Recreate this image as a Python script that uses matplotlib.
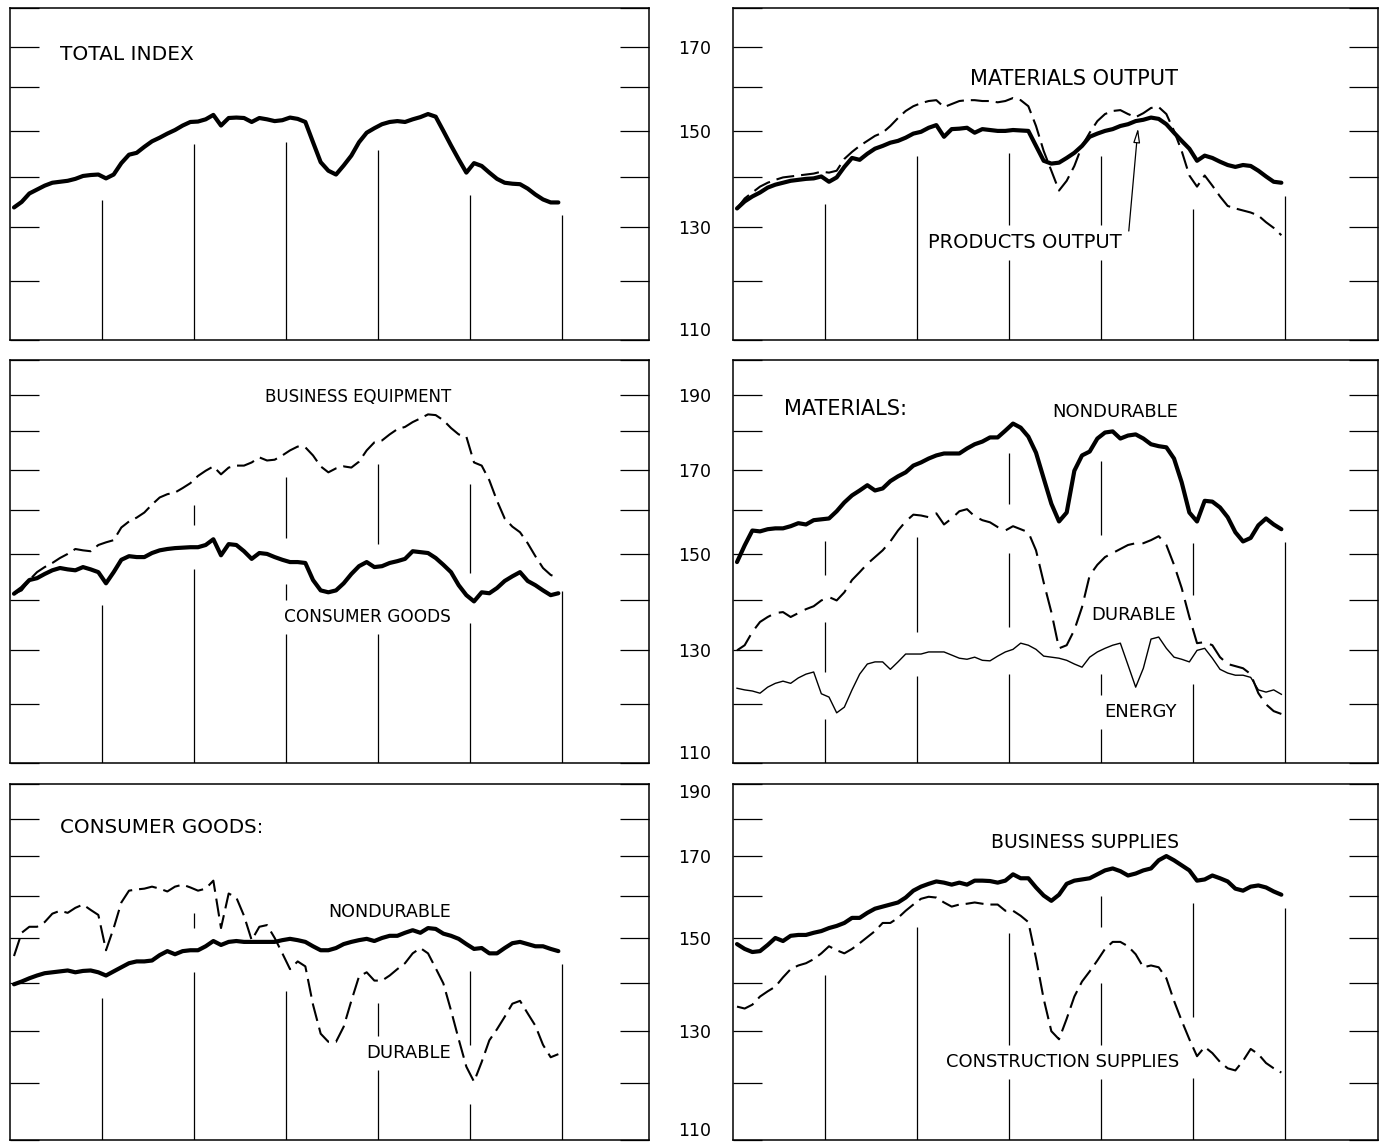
import numpy as np
import matplotlib
matplotlib.use("Agg")
import matplotlib.pyplot as plt
from matplotlib.ticker import FixedLocator, NullLocator, FixedFormatter

# monthly index values, 6 years (72 months)
months = np.arange(72)
year_breaks = np.arange(11.5, 72, 12)

total_index = [133.9, 135.0, 136.7, 137.5, 138.3, 138.9, 139.1, 139.3, 139.7, 140.3, 140.5, 140.6,
               139.8, 140.6, 143.0, 144.8, 145.2, 146.5, 147.7, 148.5, 149.4, 150.2, 151.2, 152.0,
               152.1, 152.6, 153.6, 151.2, 152.9, 153.0, 152.9, 152.0, 152.9, 152.6, 152.2, 152.4,
               153.0, 152.7, 152.0, 147.5, 143.2, 141.4, 140.6, 142.5, 144.6, 147.5, 149.6, 150.6,
               151.5, 152.0, 152.2, 152.0, 152.6, 153.1, 153.8, 153.2, 150.0, 146.8, 143.8, 141.0,
               143.0, 142.4, 141.0, 139.7, 138.9, 138.7, 138.6, 137.7, 136.5, 135.5, 134.9, 134.9]

products_output = [133.7, 135.1, 136.1, 136.9, 137.9, 138.5, 138.9, 139.3, 139.5, 139.7, 139.8, 140.2,
                   139.1, 140.0, 142.2, 144.1, 143.7, 145.0, 146.1, 146.7, 147.4, 147.8, 148.5, 149.4,
                   149.8, 150.7, 151.3, 148.7, 150.4, 150.5, 150.7, 149.6, 150.4, 150.2, 150.0, 150.0,
                   150.2, 150.1, 150.0, 146.7, 143.5, 142.9, 143.1, 144.1, 145.2, 146.7, 148.7, 149.4,
                   150.0, 150.4, 151.1, 151.5, 152.2, 152.5, 153.0, 152.7, 151.5, 149.6, 147.8, 146.1,
                   143.5, 144.6, 144.1, 143.3, 142.6, 142.2, 142.6, 142.4, 141.4, 140.2, 139.1, 138.9]

materials_output = [133.7, 135.7, 136.9, 138.1, 138.9, 139.5, 140.0, 140.2, 140.4, 140.6, 140.8, 141.2,
                    141.0, 141.4, 143.9, 145.4, 146.7, 147.8, 148.9, 149.6, 151.1, 152.9, 154.5, 155.6,
                    156.3, 156.8, 157.0, 155.4, 156.1, 156.8, 157.0, 157.0, 156.8, 156.8, 156.5, 156.8,
                    157.5, 157.0, 155.6, 151.1, 145.6, 141.4, 137.3, 139.3, 142.4, 146.7, 149.6, 152.2,
                    153.8, 154.5, 154.7, 153.8, 153.1, 154.0, 155.2, 155.4, 153.8, 150.0, 145.6, 140.4,
                    138.1, 140.4, 138.3, 136.1, 134.2, 133.7, 133.3, 132.9, 132.3, 131.0, 129.9, 128.5]

consumer_goods = [141.4, 142.6, 144.3, 144.7, 145.6, 146.4, 146.9, 146.6, 146.4, 147.1, 146.6, 146.0,
                  143.6, 146.0, 148.7, 149.5, 149.3, 149.3, 150.2, 150.8, 151.1, 151.3, 151.4, 151.5,
                  151.5, 152.0, 153.3, 149.7, 152.2, 152.0, 150.6, 148.9, 150.2, 150.0, 149.3, 148.7,
                  148.2, 148.2, 148.0, 144.3, 142.1, 141.7, 142.1, 143.6, 145.6, 147.3, 148.2, 147.1,
                  147.3, 148.0, 148.4, 148.9, 150.6, 150.4, 150.2, 149.1, 147.6, 146.0, 143.2, 141.1,
                  139.8, 141.7, 141.5, 142.6, 144.1, 145.1, 146.0, 144.1, 143.2, 142.1, 141.1, 141.5]

business_equipment = [141.4, 142.1, 144.3, 146.0, 147.1, 148.0, 149.1, 150.0, 151.1, 150.8, 150.6, 152.0,
                      152.6, 153.1, 156.0, 157.4, 158.3, 159.5, 161.4, 163.1, 163.9, 164.3, 165.4, 166.6,
                      168.4, 169.7, 170.8, 168.8, 170.5, 171.0, 171.0, 171.8, 173.1, 172.3, 172.5, 173.6,
                      174.9, 175.9, 175.7, 173.6, 170.8, 169.3, 170.3, 170.8, 170.5, 172.0, 174.9, 177.0,
                      177.5, 179.1, 180.5, 181.1, 182.4, 183.4, 184.5, 184.3, 182.9, 180.8, 179.1, 178.5,
                      171.8, 171.0, 167.3, 162.3, 158.1, 156.2, 154.9, 152.4, 149.5, 146.9, 145.4, 144.7]

mat_nondurable = [148.2, 151.9, 155.3, 155.1, 155.6, 155.8, 155.8, 156.3, 157.0, 156.7, 157.7, 157.9,
                  158.1, 159.8, 161.9, 163.6, 164.8, 166.1, 164.8, 165.3, 167.1, 168.3, 169.3, 171.0,
                  171.8, 172.8, 173.6, 174.1, 174.1, 174.1, 175.4, 176.5, 177.2, 178.3, 178.3, 180.1,
                  182.0, 180.9, 178.5, 174.3, 167.8, 161.6, 157.4, 159.5, 169.7, 173.6, 174.6, 178.0,
                  179.6, 179.9, 178.0, 178.8, 179.1, 178.0, 176.5, 176.0, 175.7, 172.8, 166.8, 159.5,
                  157.4, 162.3, 162.1, 160.7, 158.4, 154.9, 152.8, 153.6, 156.5, 158.1, 156.7, 155.6]

mat_durable = [130.0, 131.0, 133.6, 135.6, 136.6, 137.4, 137.6, 136.6, 137.4, 138.2, 138.8, 140.0,
               140.7, 140.0, 141.7, 144.3, 146.0, 147.8, 149.3, 150.8, 152.8, 155.3, 157.4, 159.0,
               158.8, 158.4, 159.3, 156.7, 158.1, 159.8, 160.3, 158.6, 157.7, 157.2, 156.1, 155.3,
               156.3, 155.6, 154.9, 150.8, 143.8, 137.6, 130.4, 131.0, 134.0, 138.6, 145.3, 147.6,
               149.3, 150.2, 151.1, 152.0, 152.4, 152.4, 153.1, 154.0, 152.0, 147.6, 142.6, 136.6,
               131.4, 131.6, 131.0, 128.7, 127.4, 127.0, 126.6, 125.5, 122.0, 120.0, 118.8, 118.3]

mat_energy = [122.9, 122.6, 122.4, 122.0, 123.1, 123.8, 124.2, 123.8, 124.8, 125.5, 125.9, 121.9,
              121.3, 118.5, 119.5, 122.6, 125.5, 127.4, 127.8, 127.8, 126.4, 127.8, 129.3, 129.3,
              129.3, 129.7, 129.7, 129.7, 129.1, 128.5, 128.3, 128.7, 128.1, 128.0, 128.9, 129.7,
              130.2, 131.4, 131.0, 130.2, 128.9, 128.7, 128.5, 128.1, 127.4, 126.8, 128.7, 129.7,
              130.4, 131.0, 131.4, 127.2, 123.1, 126.6, 132.2, 132.6, 130.4, 128.7, 128.3, 127.8,
              130.0, 130.4, 128.5, 126.4, 125.7, 125.3, 125.3, 124.9, 122.6, 122.2, 122.6, 121.8]

cons_nondurable = [139.7, 140.3, 141.0, 141.6, 142.1, 142.3, 142.5, 142.7, 142.3, 142.6, 142.7, 142.3,
                   141.6, 142.5, 143.4, 144.3, 144.7, 144.7, 144.9, 146.1, 147.0, 146.3, 147.0, 147.2,
                   147.2, 148.1, 149.3, 148.4, 149.1, 149.3, 149.1, 149.1, 149.1, 149.1, 149.1, 149.5,
                   149.8, 149.5, 149.1, 148.1, 147.2, 147.2, 147.7, 148.6, 149.1, 149.5, 149.8, 149.3,
                   150.0, 150.5, 150.5, 151.2, 151.8, 151.2, 152.3, 152.1, 151.0, 150.5, 149.8, 148.6,
                   147.5, 147.7, 146.5, 146.5, 147.7, 148.8, 149.1, 148.6, 148.1, 148.1, 147.5, 147.0]

cons_durable = [145.9, 151.2, 152.6, 152.6, 153.7, 155.7, 156.4, 155.9, 157.1, 157.9, 156.6, 155.4,
                147.2, 152.3, 158.4, 161.3, 161.6, 161.8, 162.3, 161.8, 161.1, 162.3, 162.8, 162.1,
                161.3, 161.8, 163.8, 152.3, 160.6, 159.6, 155.2, 149.5, 152.6, 153.0, 150.0, 146.5,
                143.0, 144.7, 143.6, 135.4, 129.5, 127.9, 127.9, 130.9, 136.2, 141.4, 142.3, 140.5,
                140.5, 141.6, 143.0, 144.3, 146.5, 147.7, 146.5, 143.2, 139.9, 134.2, 128.4, 123.1,
                120.3, 124.0, 128.2, 130.4, 132.9, 135.6, 136.2, 133.6, 131.1, 127.3, 124.9, 125.5]

business_supplies = [148.6, 147.5, 146.8, 147.0, 148.4, 150.0, 149.3, 150.5, 150.7, 150.7, 151.2, 151.6,
                     152.3, 152.8, 153.5, 154.7, 154.7, 155.9, 156.9, 157.4, 157.9, 158.4, 159.6, 161.3,
                     162.3, 163.0, 163.6, 163.3, 162.8, 163.3, 162.8, 163.8, 163.8, 163.7, 163.3, 163.8,
                     165.4, 164.4, 164.4, 162.1, 160.1, 158.8, 160.3, 163.0, 163.8, 164.1, 164.4, 165.4,
                     166.4, 166.9, 166.2, 165.1, 165.6, 166.4, 166.9, 169.0, 170.1, 169.0, 167.7, 166.4,
                     163.8, 164.1, 165.1, 164.4, 163.6, 161.8, 161.3, 162.3, 162.6, 162.1, 161.1, 160.3]

construction_supplies = [135.0, 134.6, 135.4, 137.1, 138.2, 139.2, 141.2, 143.0, 143.8, 144.3, 145.2, 146.5,
                         148.1, 147.2, 146.5, 147.5, 148.8, 150.2, 151.6, 153.5, 153.5, 154.7, 156.4, 157.9,
                         159.3, 159.8, 159.6, 158.4, 157.4, 157.9, 158.1, 158.4, 158.1, 157.9, 157.9, 156.4,
                         156.4, 155.2, 153.7, 145.4, 136.6, 130.0, 128.4, 132.5, 137.1, 140.3, 142.5, 144.9,
                         147.5, 149.1, 149.1, 148.1, 146.3, 143.4, 143.8, 143.4, 141.0, 136.2, 132.1, 128.4,
                         125.1, 126.9, 125.7, 124.0, 122.8, 122.4, 124.2, 126.5, 125.5, 123.8, 122.8, 122.0]

W, H = 1384, 1142
PX_PER_MONTH = 7.667
GAP = 22        # px clearance of year lines around curves
END_GAP = 13    # clearance under the curve end for the last year line
TXT_PAD = 8     # px clearance around labels
MIN_SEG = 14

plt.rcParams['font.family'] = ['DejaVu Sans']
plt.rcParams['lines.scale_dashes'] = False

fig = plt.figure(figsize=(W / 100, H / 100), dpi=100)

LEFT_COL = (10, 649)
RIGHT_COL = (733, 1378)
ROWS = [((8, 340), 180), ((360, 763), 200), ((784, 1140), 190)]


def make_panel(col, row, labelled):
    (l, r), ((t, b), ymax) = col, row
    ax = fig.add_axes([l / W, 1 - b / H, (r - l) / W, (b - t) / H])
    ax.set_yscale('log')
    first = 4  # first data point sits just inside the frame
    ax.set_xlim(-first / PX_PER_MONTH, (r - l - first) / PX_PER_MONTH)
    ax.set_ylim(110, ymax)
    ticks = list(range(110, ymax + 1, 10))
    ax.yaxis.set_major_locator(FixedLocator(ticks))
    ax.yaxis.set_minor_locator(NullLocator())
    ax.yaxis.set_major_formatter(FixedFormatter([str(v) if (v - 110) % 20 == 0 else '' for v in ticks]))
    ax.set_xticks([])
    ax.tick_params(axis='y', direction='in', length=21, width=0.9, left=True, right=True,
                   labelleft=labelled, labelsize=12.5, pad=16)
    for sp in ax.spines.values():
        sp.set_linewidth(1.1)
    ax.box = (l, t, r, b)
    ax.series = []
    ax.labels = []
    return ax


def heavy(ax, vals):
    ax.plot(months, vals, color='black', lw=3.0, solid_joinstyle='round', solid_capstyle='round')
    ax.series.append(vals)


def dashed(ax, vals, dashes=(13, 5)):
    ax.plot(months, vals, color='black', lw=1.5, dashes=dashes)
    ax.series.append(vals)


def thin(ax, vals):
    ax.plot(months, vals, color='black', lw=1.0)
    ax.series.append(vals)


def label(ax, s, x, y, ha, size):
    l, t, r, b = ax.box
    txt = ax.text((x - l) / (r - l), (b - y) / (b - t), s, transform=ax.transAxes,
                  ha=ha, va='baseline', fontsize=size)
    ax.labels.append(txt)


def year_lines(ax, renderer):
    top = ax.transAxes.transform((0, 1))[1]
    inv = ax.transData.inverted()
    for m in year_breaks:
        xd, bottom = ax.transData.transform((m, 110))
        near = [i for i in months if abs(i - m) <= 1]
        blocks = []
        highest = -np.inf
        for vals in ax.series:
            ys = [ax.transData.transform((i, vals[i]))[1] for i in near]
            if m < months[-1]:
                blocks.append((min(ys) - GAP, max(ys) + GAP))
            highest = max(highest, max(ys))
        blocks.append((highest - (GAP if m < months[-1] else END_GAP), top))
        for txt in ax.labels:
            bb = txt.get_window_extent(renderer)
            if bb.x0 - 6 <= xd <= bb.x1 + 6:
                blocks.append((bb.y0 - TXT_PAD, bb.y1 + TXT_PAD))
        blocks.sort()
        cur = bottom
        for lo, hi in blocks:
            if lo - cur >= MIN_SEG:
                v0 = inv.transform((xd, cur))[1]
                v1 = inv.transform((xd, lo))[1]
                ax.vlines(m, v0, v1, color='black', lw=0.9)
            cur = max(cur, hi)


# --- row 1 ---
ax1 = make_panel(LEFT_COL, ROWS[0], False)
heavy(ax1, total_index)
label(ax1, 'TOTAL INDEX', 60, 60, 'left', 14.5)

ax2 = make_panel(RIGHT_COL, ROWS[0], True)
dashed(ax2, materials_output)
heavy(ax2, products_output)
label(ax2, 'MATERIALS OUTPUT', 1178, 85, 'right', 15)
label(ax2, 'PRODUCTS OUTPUT', 1122, 248, 'right', 14)
ax2.annotate('', xy=(52.3, 150.6), xytext=(51.1, 129.3),
             arrowprops=dict(arrowstyle='-|>,head_length=0.85,head_width=0.2', lw=0.9,
                             fc='white', ec='black', shrinkA=0, shrinkB=0))

# --- row 2 ---
ax3 = make_panel(LEFT_COL, ROWS[1], False)
dashed(ax3, business_equipment)
heavy(ax3, consumer_goods)
label(ax3, 'BUSINESS EQUIPMENT', 451, 402, 'right', 12)
label(ax3, 'CONSUMER GOODS', 451, 622, 'right', 12.2)

ax4 = make_panel(RIGHT_COL, ROWS[1], True)
heavy(ax4, mat_nondurable)
dashed(ax4, mat_durable, dashes=(15, 6))
thin(ax4, mat_energy)
label(ax4, 'MATERIALS:', 784, 415, 'left', 15)
label(ax4, 'NONDURABLE', 1178, 417, 'right', 13)
label(ax4, 'DURABLE', 1176, 620, 'right', 13)
label(ax4, 'ENERGY', 1177, 717, 'right', 13)

# --- row 3 ---
ax5 = make_panel(LEFT_COL, ROWS[2], False)
dashed(ax5, cons_durable)
heavy(ax5, cons_nondurable)
label(ax5, 'CONSUMER GOODS:', 60, 833, 'left', 14.3)
label(ax5, 'NONDURABLE', 451, 917, 'right', 12.6)
label(ax5, 'DURABLE', 451, 1058, 'right', 13)

ax6 = make_panel(RIGHT_COL, ROWS[2], True)
dashed(ax6, construction_supplies)
heavy(ax6, business_supplies)
label(ax6, 'BUSINESS SUPPLIES', 1179, 848, 'right', 13.5)
label(ax6, 'CONSTRUCTION SUPPLIES', 1179, 1067, 'right', 12.9)

# keep the edge tick labels inside the panel's height
for ax in (ax2, ax4, ax6):
    ymax = ax.get_ylim()[1]
    for v, tl in zip(ax.yaxis.get_major_locator().tick_values(110, ymax), ax.get_yticklabels()):
        if v == 110:
            tl.set_verticalalignment('bottom')
        elif v == ymax:
            tl.set_verticalalignment('top')

fig.canvas.draw()
renderer = fig.canvas.get_renderer()
for ax in (ax1, ax2, ax3, ax4, ax5, ax6):
    year_lines(ax, renderer)

fig.savefig('out.png', dpi=100)
